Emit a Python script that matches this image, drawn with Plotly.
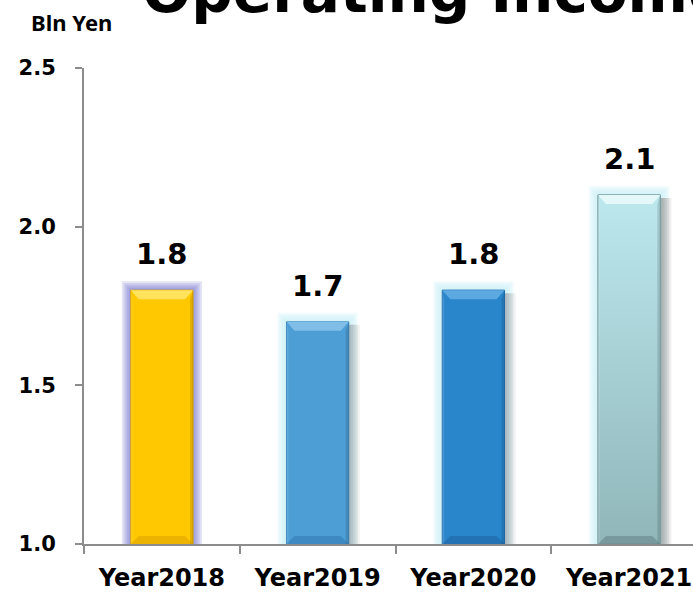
import plotly.graph_objects as go

# ---- data ----
years = ["Year2018", "Year2019", "Year2020", "Year2021"]
income = [1.8, 1.7, 1.8, 2.1]
value_labels = ["1.8", "1.7", "1.8", "2.1"]
y_ticks = [1.0, 1.5, 2.0, 2.5]
y_tick_labels = ["1.0", "1.5", "2.0", "2.5"]

# ---- styling ----
body_colors = ["#FFC800", "#4C9ED5", "#2A86CB", "#A8D6DC"]
edge_colors = ["#D9A200", "#3A86BC", "#1F6FAF", "#7FA3A6"]
bevel_colors = ["#FFE35C", "#80BEE7", "#5CA8E1", "#E4F7F9"]
bottom_colors = ["rgba(200,140,0,0.35)", "rgba(30,90,150,0.30)",
                 "rgba(20,70,130,0.30)", "rgba(90,120,124,0.45)"]
glow_colors = ["rgba(100,100,200,0.17)", "rgba(200,240,246,0.25)",
               "rgba(200,240,246,0.25)", "rgba(200,240,246,0.25)"]
shadow_colors = ["rgba(0,0,0,0)", "rgba(120,120,120,0.10)",
                 "rgba(120,120,120,0.10)", "rgba(120,110,100,0.12)"]
gradient_2021 = [[0, "#90B6B9"], [1, "#BCE8EE"]]

W, H = 693, 594
M_L, M_R, M_T, M_B = 84, 0, 68, 50
X_RANGE = [-0.5, 3.41]
Y_RANGE = [1.0, 2.5]
BAR_W = 0.4
px_x = (X_RANGE[1] - X_RANGE[0]) / (W - M_L - M_R)
px_y = (Y_RANGE[1] - Y_RANGE[0]) / (H - M_T - M_B)
floor = Y_RANGE[0]
AXIS_GREY = "#8C8C8C"
BOLD = "DejaVu Sans"
positions = list(range(len(years)))

fig = go.Figure()

# soft glow behind each bar (stacked translucent bars)
for k in range(1, 6):
    d = 1.8 * k
    fig.add_trace(go.Bar(
        x=positions, y=[v + d * px_y for v in income],
        width=BAR_W + 2 * d * px_x,
        marker=dict(color=glow_colors, line=dict(width=0)),
        hoverinfo="skip", showlegend=False))

# drop shadow on the right side
for k in range(1, 6):
    d = 2.2 * k
    fig.add_trace(go.Bar(
        x=positions, y=[v - 3 * px_y for v in income],
        width=(d + 2) * px_x, offset=BAR_W / 2 - 2 * px_x,
        marker=dict(color=shadow_colors, line=dict(width=0)),
        hoverinfo="skip", showlegend=False))

# main bars
fig.add_trace(go.Bar(
    x=positions, y=income, width=BAR_W,
    marker=dict(color=body_colors, line=dict(color=edge_colors, width=1)),
    hovertext=years, showlegend=False))


def poly(xs, ys, color, **extra):
    fig.add_trace(go.Scatter(
        x=xs + [xs[0]], y=ys + [ys[0]], mode="lines", fill="toself",
        fillcolor=color, line=dict(width=0), hoverinfo="skip",
        showlegend=False, **extra))


# vertical gradient on the 2021 bar
i = 3
x0, x1 = i - BAR_W / 2, i + BAR_W / 2
fig.add_trace(go.Scatter(
    x=[x0, x1, x1, x0, x0], y=[floor, floor, income[i], income[i], floor],
    mode="lines", fill="toself", line=dict(color=edge_colors[i], width=1),
    fillgradient=dict(type="vertical", colorscale=gradient_2021),
    hoverinfo="skip", showlegend=False))

# bevel facets
for i, v in enumerate(income):
    x0, x1 = i - BAR_W / 2, i + BAR_W / 2
    ix, iy = 8 * px_x, 9 * px_y
    poly([x0, x1, x1 - ix, x0 + ix], [v, v, v - iy, v - iy], bevel_colors[i])
    poly([x1, x1 - 3 * px_x, x1 - 3 * px_x, x1],
         [v, v - iy, floor, floor], "rgba(0,0,0,0.12)")
    poly([x0, x0 + 2 * px_x, x0 + 2 * px_x, x0],
         [v, v - iy, floor, floor], "rgba(255,255,255,0.12)")
    poly([x0, x1, x1 - ix, x0 + ix],
         [floor, floor, floor + 8 * px_y, floor + 8 * px_y], bottom_colors[i])

annotations = []
for i, v in enumerate(income):
    annotations.append(dict(
        x=i, y=v, xref="x", yref="y", text=value_labels[i], showarrow=False,
        yanchor="bottom", yshift=17,
        font=dict(family=BOLD, size=29, color="#000000", weight="bold")))

annotations.append(dict(
    x=(140 - M_L) / (W - M_L - M_R), y=1.16, xref="paper", yref="paper",
    xanchor="left", yanchor="middle", text="Operating Income",
    showarrow=False, font=dict(family=BOLD, size=58, color="#000000", weight="bold")))
annotations.append(dict(
    x=(71 - M_L) / (W - M_L - M_R), y=1 + (M_T - 22) / (H - M_T - M_B),
    xref="paper", yref="paper", xanchor="center", yanchor="middle",
    text="Bln Yen", showarrow=False,
    font=dict(family="Noto Sans", size=22, color="#000000", weight="bold")))

fig.update_layout(
    width=W, height=H, barmode="overlay",
    margin=dict(l=M_L, r=M_R, t=M_T, b=M_B),
    paper_bgcolor="#FFFFFF", plot_bgcolor="#FFFFFF",
    annotations=annotations,
    xaxis=dict(
        range=X_RANGE, tickvals=positions, ticktext=years,
        ticks="", showgrid=False, zeroline=False,
        showline=True, linecolor=AXIS_GREY, linewidth=2,
        ticklabelstandoff=11,
        tickfont=dict(family=BOLD, size=24, color="#000000", weight="bold"),
        minor=dict(tickvals=[-0.5, 0.5, 1.5, 2.5, 3.5], ticks="outside",
                   ticklen=8, tickwidth=2, tickcolor=AXIS_GREY, showgrid=False),
    ),
    yaxis=dict(
        range=Y_RANGE, tickvals=y_ticks, ticktext=y_tick_labels,
        ticks="outside", ticklen=7, tickwidth=2, tickcolor=AXIS_GREY,
        showgrid=False, zeroline=False,
        showline=True, linecolor=AXIS_GREY, linewidth=2,
        ticklabelstandoff=15,
        tickfont=dict(family=BOLD, size=21, color="#000000", weight="bold"),
    ),
)

fig.write_html("out.html")
